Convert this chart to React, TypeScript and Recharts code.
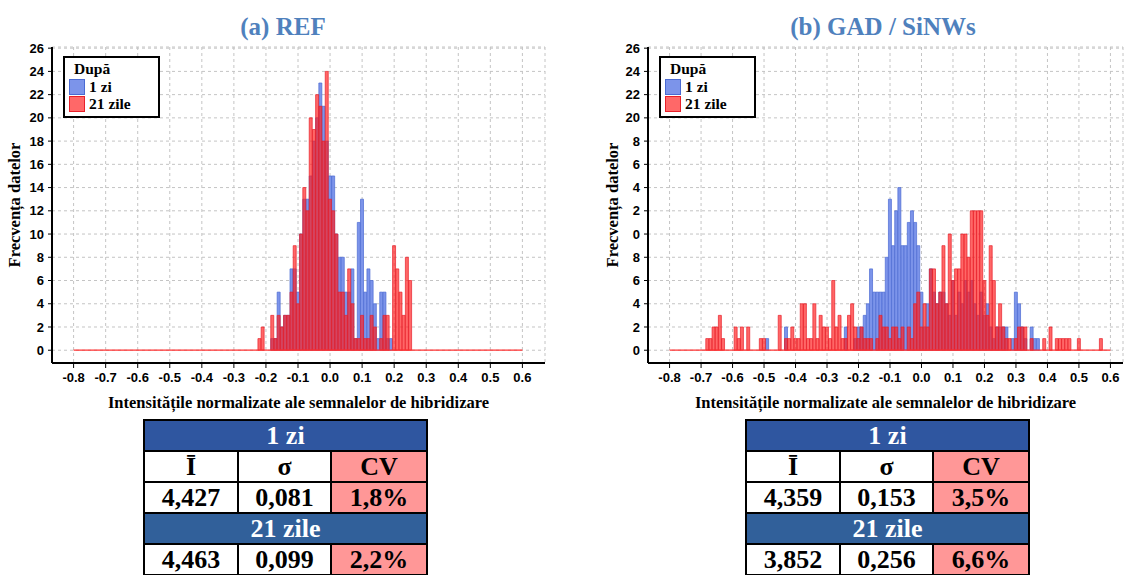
import React from "react";
import {
  Bar,
  CartesianGrid,
  ComposedChart,
  Legend,
  ReferenceLine,
  XAxis,
  YAxis,
} from "recharts";

// histogram bins: -0.80 ... 0.60, step 0.01
const binFirst = -80;
const binLast = 60;

const yTicks = [0, 2, 4, 6, 8, 10, 12, 14, 16, 18, 20, 22, 24, 26];
const yTickLabelsRef = ["0", "2", "4", "6", "8", "10", "12", "14", "16", "18", "20", "22", "24", "26"];
// the right panel lost the leading "1" on its tick labels
const yTickLabelsGad = ["0", "2", "4", "6", "8", "0", "2", "4", "6", "8", "20", "22", "24", "26"];

// (a) REF, counts per bin starting at the given bin
const refDay1Start = -0.18;
const refDay1 = [
  1, 1, 5, 2, 3, 3, 7, 7, 5, 10, 13, 13, 15, 18, 20, 23, 21, 18, 15, 15, 10, 8, 8, 5, 5, 7, 1, 11, 13, 5,
  7, 6, 4, 1, 5, 5, 1, 1,
];
const refDay21Start = -0.22;
const refDay21 = [
  1, 2, 0, 0, 3, 1, 3, 2, 3, 3, 5, 9, 4, 10, 14, 12, 20, 19, 22, 21, 18, 24, 13, 12, 10, 5, 5, 3, 7, 4,
  1, 1, 3, 1, 1, 3, 2, 0, 1, 3, 3, 0, 9, 7, 5, 3, 8, 6,
];

// (b) GAD / SiNWs
const gadDay1Start = -0.49;
const gadDay1 = [
  1, 0, 0, 0, 0, 0, 2, 0, 0, 0,
  0, 0, 0, 0, 0, 0, 0, 0, 0, 0,
  0, 0, 0, 0, 0, 2, 0, 0, 1, 2,
  2, 3, 4, 7, 5, 5, 5, 5, 8, 13,
  9, 12, 14, 9, 9, 11, 12, 11, 9, 5,
  2, 4, 7, 5, 4, 5, 5, 4, 3, 6,
  3, 5, 4, 6, 5, 6, 4, 3, 5, 3,
  4, 2, 1, 2, 2, 2, 2, 0, 1, 5,
  4, 2, 1, 0, 2, 1, 1,
];
const gadDay21Start = -0.68;
const gadDay21 = [
  1, 1, 2, 2, 3, 1, 0, 0, 0, 2,
  1, 2, 0, 2, 0, 0, 0, 1, 1, 0,
  0, 0, 0, 3, 0, 1, 1, 2, 1, 1,
  4, 4, 1, 1, 4, 1, 3, 2, 2, 1,
  6, 2, 3, 1, 1, 3, 4, 2, 1, 2,
  1, 1, 1, 0, 1, 3, 2, 2, 1, 2,
  2, 1, 2, 0, 2, 1, 4, 5, 2, 4,
  2, 7, 7, 4, 5, 9, 4, 10, 6, 7,
  7, 10, 10, 8, 12, 12, 12, 12, 6, 3,
  9, 6, 2, 4, 2, 1, 1, 0, 1, 2,
  2, 2, 0, 1, 0, 0, 0, 1, 0, 2,
  0, 1, 1, 1, 1, 1, 0, 0, 1, 0,
  0, 0, 0, 0, 0, 1,
];

const statHeaders = ["Ī", "σ", "CV"];
const refDay1Stats = ["4,427", "0,081", "1,8%"];
const refDay21Stats = ["4,463", "0,099", "2,2%"];
const gadDay1Stats = ["4,359", "0,153", "3,5%"];
const gadDay21Stats = ["3,852", "0,256", "6,6%"];

const blueFill = "#7c94ea";
const blueStroke = "#4a6ad2";
const redFill = "#ff1f1f";
const redStroke = "#e8202a";
const serif = "'Liberation Serif', 'Times New Roman', serif";
const sans = "'Liberation Sans', Arial, sans-serif";

type Row = { bin: string; day1: number; day21: number };

function buildRows(d1Start: number, d1: number[], d21Start: number, d21: number[]): Row[] {
  const o1 = Math.round(d1Start * 100);
  const o21 = Math.round(d21Start * 100);
  const rows: Row[] = [];
  for (let b = binFirst; b <= binLast; b++) {
    rows.push({ bin: (b / 100).toFixed(2), day1: d1[b - o1] ?? 0, day21: d21[b - o21] ?? 0 });
  }
  return rows;
}

const refRows = buildRows(refDay1Start, refDay1, refDay21Start, refDay21);
const gadRows = buildRows(gadDay1Start, gadDay1, gadDay21Start, gadDay21);

function LegendBox({ payload }: any) {
  return (
    <div
      style={{
        border: "2px solid #000",
        background: "#fff",
        width: 97,
        height: 62,
        boxSizing: "border-box",
        padding: "2px 0 0 4px",
        fontFamily: serif,
        fontWeight: 700,
        fontSize: 15.5,
        color: "#000",
      }}
    >
      <div style={{ lineHeight: "18px", paddingLeft: 5 }}>După</div>
      {(payload || []).map((e: any) => {
        const red = e.dataKey === "day21";
        return (
          <div key={e.value} style={{ display: "flex", alignItems: "center", height: 17 }}>
            <span
              style={{
                width: 14,
                height: 14,
                background: red ? "#ff6868" : blueFill,
                border: `1px solid ${red ? redStroke : blueStroke}`,
              }}
            />
            <span style={{ marginLeft: 4 }}>{e.value}</span>
          </div>
        );
      })}
    </div>
  );
}

function Histogram({
  rows,
  yLabels,
  width,
  yAxisWidth,
  marginRight,
  padLeft,
  padRight,
}: {
  rows: Row[];
  yLabels: string[];
  width: number;
  yAxisWidth: number;
  marginRight: number;
  padLeft: number;
  padRight: number;
}) {
  const frame = { stroke: "#000", strokeWidth: 2 };
  return (
    <ComposedChart
      width={width}
      height={380}
      data={rows}
      barCategoryGap={0}
      barGap={0}
      margin={{ top: 7, right: marginRight, bottom: 0, left: 0 }}
    >
      <CartesianGrid stroke="#c4c4c4" strokeDasharray="3 3" />
      <XAxis
        dataKey="bin"
        interval={9}
        padding={{ left: padLeft, right: padRight }}
        height={57}
        tickSize={5}
        tickMargin={5}
        axisLine={frame}
        tickLine={{ stroke: "#000" }}
        tick={{ fill: "#000", fontSize: 13, fontWeight: 700, fontFamily: sans }}
        tickFormatter={(v: string) => Number(v).toFixed(1)}
        label={{
          value: "Intensitățile normalizate ale semnalelor de hibridizare",
          position: "insideBottom",
          offset: 12,
          style: { fill: "#000", fontSize: 16.5, fontWeight: 700, fontFamily: serif },
        }}
      />
      <XAxis xAxisId="over" dataKey="bin" hide padding={{ left: padLeft, right: padRight }} />
      <XAxis xAxisId="top" dataKey="bin" orientation="top" height={0} tick={false} tickLine={false} axisLine={frame} />
      <YAxis
        type="number"
        domain={[-1.1, 26.1]}
        allowDataOverflow
        ticks={yTicks}
        interval={0}
        width={yAxisWidth}
        tickSize={4}
        tickMargin={4}
        axisLine={frame}
        tickLine={{ stroke: "#000" }}
        tick={{ fill: "#000", fontSize: 13, fontWeight: 700, fontFamily: sans }}
        tickFormatter={(v: number) => yLabels[yTicks.indexOf(v)]}
        label={{
          content: (p: any) => {
            const vb = p.viewBox;
            const cx = vb.x + 14;
            const cy = vb.y + vb.height / 2;
            return (
              <text
                x={cx}
                y={cy}
                transform={`rotate(-90 ${cx} ${cy})`}
                textAnchor="middle"
                dominantBaseline="central"
                style={{ fill: "#000", fontSize: 16.5, fontWeight: 700, fontFamily: serif }}
              >
                Frecvența datelor
              </text>
            );
          },
        }}
      />
      <YAxis yAxisId="right" orientation="right" width={0} tick={false} tickLine={false} axisLine={frame} />
      <Bar
        dataKey="day1"
        name="1 zi"
        fill={blueFill}
        stroke={blueStroke}
        strokeWidth={0.7}
        isAnimationActive={false}
      />
      <Bar
        dataKey="day21"
        name="21 zile"
        xAxisId="over"
        fill={redFill}
        fillOpacity={0.68}
        stroke={redStroke}
        strokeWidth={0.7}
        isAnimationActive={false}
      />
      <ReferenceLine
        segment={[
          { x: rows[0].bin, y: 0 },
          { x: rows[rows.length - 1].bin, y: 0 },
        ]}
        stroke="#ff3030"
        strokeWidth={1.2}
        ifOverflow="visible"
      />
      <Legend
        layout="horizontal"
        verticalAlign="middle"
        align="center"
        wrapperStyle={{ left: yAxisWidth + 11, top: 16, width: 97, height: 62 }}
        content={(p: any) => <LegendBox payload={p.payload} />}
      />
    </ComposedChart>
  );
}

function StatsTable({ left, day1, day21 }: { left: number; day1: string[]; day21: string[] }) {
  const cell: React.CSSProperties = {
    border: "2px solid #000",
    height: 29,
    padding: 0,
    textAlign: "center",
    verticalAlign: "middle",
    lineHeight: "29px",
  };
  const head = (bg: string): React.CSSProperties => ({ ...cell, background: bg, color: "#fff", fontSize: 26 });
  const pink = { ...cell, background: "#ff9797" };
  return (
    <table
      style={{
        position: "absolute",
        left,
        top: 419,
        width: 283,
        borderCollapse: "collapse",
        tableLayout: "fixed",
        fontFamily: serif,
        fontWeight: 700,
        fontSize: 26,
        color: "#000",
      }}
    >
      <colgroup>
        <col style={{ width: 94 }} />
        <col style={{ width: 93 }} />
        <col style={{ width: 96 }} />
      </colgroup>
      <tbody>
        <tr>
          <td colSpan={3} style={head("#2f56a0")}>1 zi</td>
        </tr>
        <tr>
          {statHeaders.map((h, i) => (
            <td key={h} style={i === 2 ? pink : cell}>{h}</td>
          ))}
        </tr>
        <tr>
          {day1.map((v, i) => (
            <td key={i} style={i === 2 ? pink : cell}>{v}</td>
          ))}
        </tr>
        <tr>
          <td colSpan={3} style={head("#31609a")}>21 zile</td>
        </tr>
        <tr>
          {day21.map((v, i) => (
            <td key={i} style={i === 2 ? pink : cell}>{v}</td>
          ))}
        </tr>
      </tbody>
    </table>
  );
}

const titleStyle: React.CSSProperties = {
  position: "absolute",
  top: 12,
  textAlign: "center",
  fontFamily: serif,
  fontWeight: 700,
  fontSize: 25,
  color: "#4f81bd",
  lineHeight: "30px",
};

export default function App() {
  return (
    <div
      style={{
        position: "absolute",
        left: 0,
        top: 0,
        width: 1126,
        height: 575,
        overflow: "hidden",
        background: "#fff",
      }}
    >
      <div style={{ ...titleStyle, left: 0, width: 566 }}>(a) REF</div>
      <div style={{ ...titleStyle, left: 600, width: 566 }}>(b) GAD / SiNWs</div>
      <div style={{ position: "absolute", left: 0, top: 40 }}>
        <Histogram
          rows={refRows}
          yLabels={yTickLabelsRef}
          width={560}
          yAxisWidth={52}
          marginRight={15}
          padLeft={20}
          padRight={21}
        />
      </div>
      <div style={{ position: "absolute", left: 598, top: 40 }}>
        <Histogram
          rows={gadRows}
          yLabels={yTickLabelsGad}
          width={528}
          yAxisWidth={50}
          marginRight={3}
          padLeft={20}
          padRight={11}
        />
      </div>
      <StatsTable left={143} day1={refDay1Stats} day21={refDay21Stats} />
      <StatsTable left={745} day1={gadDay1Stats} day21={gadDay21Stats} />
    </div>
  );
}
